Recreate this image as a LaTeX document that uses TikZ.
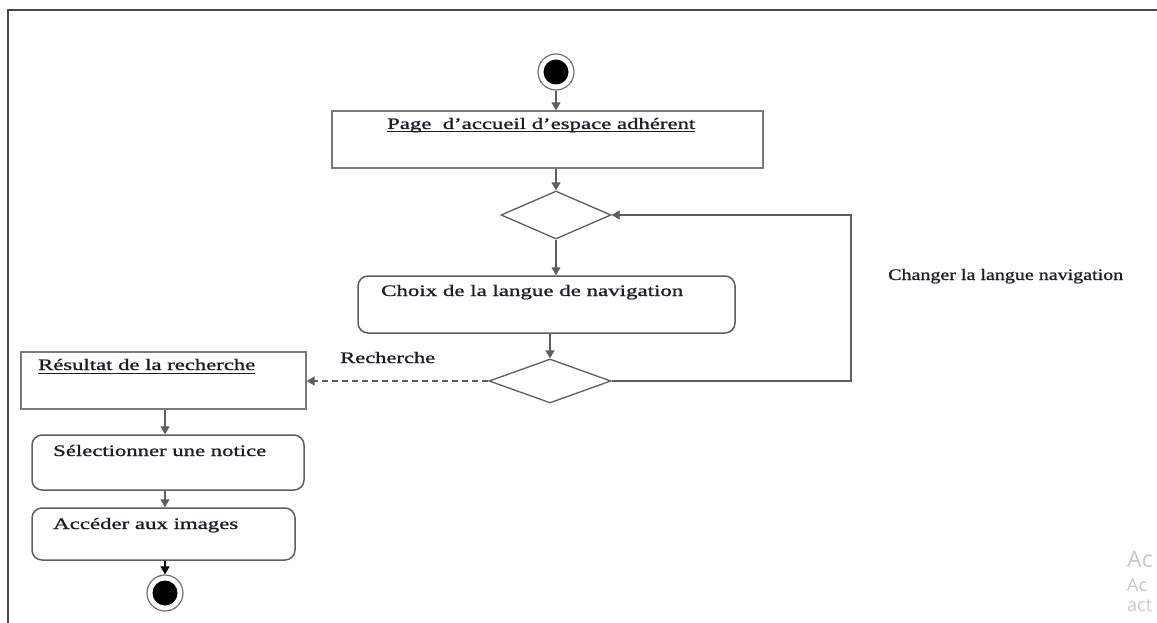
\documentclass[tikz,border=0pt]{standalone}
\usepackage{fontspec}
\setmainfont{Liberation Serif}
\newfontfamily\labelfont[FakeBold=0.9]{Liberation Serif}
\newfontfamily\wmfont{Open Sans}
\usetikzlibrary{shapes.geometric,arrows.meta}
% stretch a label horizontally to a given width, keeping its height
\newcommand{\fitto}[2]{\resizebox{#1}{\height}{#2}}
\definecolor{linegrey}{HTML}{5E5E5E}
\definecolor{boxgrey}{HTML}{7A7A7A}
\definecolor{inkdark}{HTML}{1C1C2A}
\definecolor{wmgrey}{HTML}{C9C9C9}
\tikzset{
  x=1pt, y=-1pt,
  flow/.style={draw=linegrey, line width=1.3pt, -{Triangle[length=8pt,width=9pt]}},
  plainbox/.style={draw=boxgrey, line width=1.4pt, rectangle, inner sep=0pt},
  actbox/.style={draw=linegrey, line width=1.5pt, rectangle, rounded corners=10pt, inner sep=0pt},
  choice/.style={draw=linegrey, line width=1.3pt, diamond, inner sep=0pt, fill=white},
  txt/.style={anchor=base west, inner sep=0pt, text=inkdark, font=\labelfont\fontsize{16}{19}\selectfont},
  ul/.style={draw=inkdark, line width=1pt},
  frameline/.style={draw=black!72, line width=2pt},
  wm/.style={anchor=base west, inner sep=0pt, text=wmgrey},
}
\begin{document}
\begin{tikzpicture}
\useasboundingbox (0,0) rectangle (1157,623);
\fill[white] (0,0) rectangle (1157,623);

% outer frame (top and left sides)
\draw[frameline] (8,623) -- (8,10) -- (1160,10);

% start node
\node[circle, draw=black!55, line width=1.2pt, minimum size=36pt, inner sep=0pt] (start) at (556,72) {};
\node[circle, fill=black, minimum size=25pt, inner sep=0pt] (startdot) at (start) {};

% activities and decisions
\node[plainbox, minimum width=431pt, minimum height=57pt] (home) at (547.5,139.5) {};
\node[choice, minimum width=110pt, minimum height=48pt] (dlang) at (556,215) {};
\node[actbox, minimum width=377pt, minimum height=57pt] (choose) at (546.5,304.5) {};
\node[choice, minimum width=122pt, minimum height=44pt] (dsearch) at (550,381) {};
\node[plainbox, minimum width=285pt, minimum height=57pt] (result) at (163.5,380.5) {};
\node[actbox, minimum width=272pt, minimum height=55pt] (notice) at (168,462.5) {};
\node[actbox, minimum width=263pt, minimum height=52pt] (images) at (163.5,534) {};

% end node
\node[circle, draw=black!55, line width=1.2pt, minimum size=36pt, inner sep=0pt] (finish) at (165,593) {};
\node[circle, fill=black, minimum size=25pt, inner sep=0pt] (finishdot) at (finish) {};

% labels
\node[txt] (thome) at (387,129) {\fitto{308pt}{Page\ \ d’accueil d’espace adhérent}};
\draw[ul] ([yshift=-3pt]thome.base west) -- ([yshift=-3pt]thome.base east);
\node[txt] (tchoose) at (381,296) {\fitto{302pt}{Choix de la langue de navigation}};
\node[txt] (tchange) at (888,280) {\fitto{235pt}{Changer la langue navigation}};
\node[txt] (tsearch) at (340,363) {\fitto{95pt}{Recherche}};
\node[txt] (tresult) at (38,370) {\fitto{217pt}{Résultat de la recherche}};
\draw[ul] ([yshift=-3pt]tresult.base west) -- ([yshift=-3pt]tresult.base east);
\node[txt] (tnotice) at (53,456) {\fitto{213pt}{Sélectionner une notice}};
\node[txt] (timages) at (53,529) {\fitto{185pt}{Accéder aux images}};

% flows
\draw[flow] (start.south) -- (start.south |- home.north);
\draw[flow] (home.south -| dlang.north) -- (dlang.north);
\draw[flow] (dlang.south) -- (dlang.south |- choose.north);
\draw[flow] (choose.south -| dsearch.north) -- (dsearch.north);
\draw[flow] (dsearch.east) -- (851,381) |- (dlang.east);
\draw[flow, dashed, dash pattern=on 6pt off 4pt] (dsearch.west) -- (dsearch.west -| result.east);
\draw[flow] (result.south -| 165,0) -- (notice.north -| 165,0);
\draw[flow] (notice.south -| 165,0) -- (images.north -| 165,0);
\draw[flow, draw=black] (images.south -| 165,0) -- (finish.north);

% faint system text in the lower right corner
\node[wm, font=\wmfont\fontsize{23}{26}\selectfont] (wm1) at (1127,567) {Ac};
\node[wm, font=\wmfont\fontsize{18}{21}\selectfont] (wm2) at (1127,591) {Ac};
\node[wm, font=\wmfont\fontsize{18}{21}\selectfont] (wm3) at (1127,611) {act};
\end{tikzpicture}
\end{document}
